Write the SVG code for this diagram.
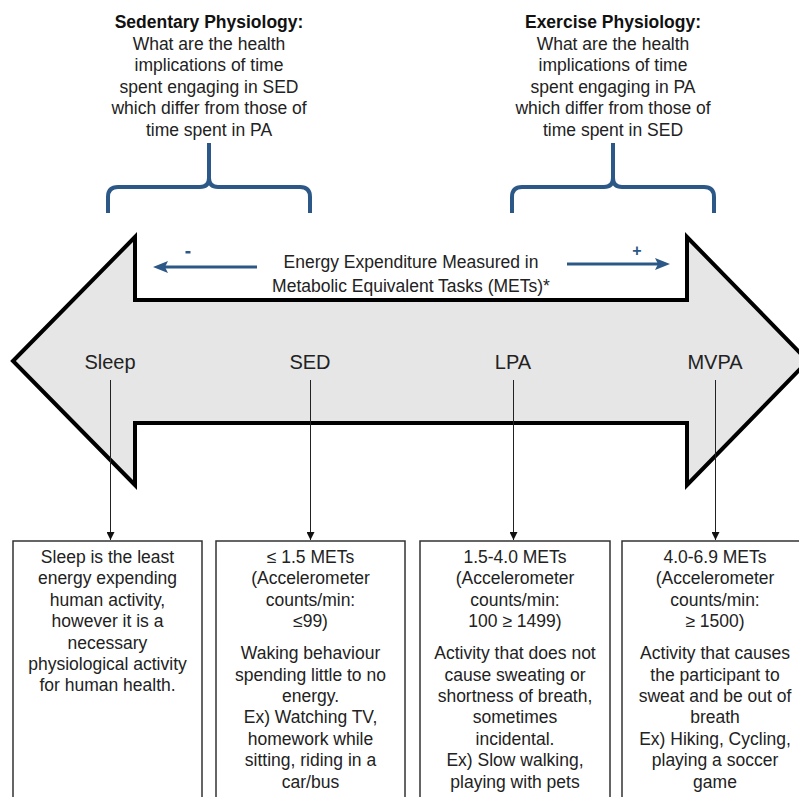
<svg xmlns="http://www.w3.org/2000/svg" width="799" height="797" viewBox="0 0 799 797">
  <style>
    text { font-family: "Liberation Sans", Arial, sans-serif; fill: #222; }
    .title { font-size: 17.5px; text-anchor: middle; }
    .bold { font-weight: bold; fill: #111; }
    .cat { font-size: 20px; text-anchor: middle; }
    .box { fill: #fff; stroke: #333; stroke-width: 1.5; }
    .boxtext { font-size: 17.5px; text-anchor: middle; }
    .brace { fill: none; stroke: #2b5886; stroke-width: 4; stroke-linecap: butt; stroke-linejoin: round; }
    .sign { fill: #2b5886; font-weight: bold; font-size: 16px; text-anchor: middle; }
    .conn { stroke: #222; stroke-width: 1; fill: none; }
  </style>
  <defs>
    <marker id="tip" markerWidth="8" markerHeight="8" refX="8" refY="4" orient="auto" markerUnits="userSpaceOnUse">
      <path d="M0,0 L8,4 L0,8 Z" fill="#111"/>
    </marker>
  </defs>

  <rect width="799" height="797" fill="#fff"/>

  <!-- Sedentary physiology heading and brace -->
  <g id="sedentary-physiology">
    <text class="title" x="209" y="28"><tspan class="bold">Sedentary Physiology:</tspan></text>
    <text class="title" x="209" y="49.6">What are the health</text>
    <text class="title" x="209" y="71.2">implications of time</text>
    <text class="title" x="209" y="92.8">spent engaging in SED</text>
    <text class="title" x="209" y="114.4">which differ from those of</text>
    <text class="title" x="209" y="136">time spent in PA</text>
    <path class="brace" d="M108,213 V197 Q108,187 118,187 H200 Q209,187 209,178 V143 M310,213 V197 Q310,187 300,187 H218 Q209,187 209,178"/>
  </g>

  <!-- Exercise physiology heading and brace -->
  <g id="exercise-physiology">
    <text class="title" x="613" y="28"><tspan class="bold">Exercise Physiology:</tspan></text>
    <text class="title" x="613" y="49.6">What are the health</text>
    <text class="title" x="613" y="71.2">implications of time</text>
    <text class="title" x="613" y="92.8">spent engaging in PA</text>
    <text class="title" x="613" y="114.4">which differ from those of</text>
    <text class="title" x="613" y="136">time spent in SED</text>
    <path class="brace" d="M512,213 V197 Q512,187 522,187 H604 Q613,187 613,178 V143 M714,213 V197 Q714,187 704,187 H622 Q613,187 613,178"/>
  </g>

  <!-- Double-headed energy expenditure arrow -->
  <g id="energy-arrow">
    <path d="M13,361 L135,237 V300 H687 V237 L808,361 L687,485 V423 H135 V485 Z" fill="#e6e6e6" stroke="#000" stroke-width="4" stroke-linejoin="miter"/>
  </g>

  <!-- Scale caption with direction arrows -->
  <g id="energy-label">
    <rect x="257" y="244" width="310" height="54" fill="#fff"/>
    <text class="title" x="411" y="268">Energy Expenditure Measured in</text>
    <text class="title" x="411" y="292">Metabolic Equivalent Tasks (METs)*</text>
    <line x1="257" y1="267" x2="164" y2="267" stroke="#2b5886" stroke-width="3"/>
    <path d="M153,267 L168,261 L165,267 L168,273 Z" fill="#2b5886"/>
    <rect x="185.5" y="251" width="5" height="2.5" fill="#2b5886"/>
    <line x1="567" y1="264" x2="659" y2="264" stroke="#2b5886" stroke-width="3"/>
    <path d="M670,264 L655,258 L658,264 L655,270 Z" fill="#2b5886"/>
    <text class="sign" x="637" y="256">+</text>
  </g>

  <!-- Category labels -->
  <g id="label-sleep"><text class="cat" x="110" y="369">Sleep</text></g>
  <g id="label-sed"><text class="cat" x="310" y="369">SED</text></g>
  <g id="label-lpa"><text class="cat" x="513" y="369">LPA</text></g>
  <g id="label-mvpa"><text class="cat" x="715" y="369">MVPA</text></g>

  <!-- Connectors from labels to description boxes -->
  <g id="connectors">
    <line class="conn" x1="110.5" y1="380" x2="110.5" y2="540" marker-end="url(#tip)"/>
    <line class="conn" x1="310.5" y1="380" x2="310.5" y2="540" marker-end="url(#tip)"/>
    <line class="conn" x1="513.5" y1="380" x2="513.5" y2="540" marker-end="url(#tip)"/>
    <line class="conn" x1="715.5" y1="380" x2="715.5" y2="540" marker-end="url(#tip)"/>
  </g>

  <!-- Description boxes -->
  <g id="box-sleep">
    <rect class="box" x="13" y="541" width="189" height="270"/>
    <text class="boxtext" x="107.5" y="563">Sleep is the least</text>
    <text class="boxtext" x="107.5" y="584.4">energy expending</text>
    <text class="boxtext" x="107.5" y="605.8">human activity,</text>
    <text class="boxtext" x="107.5" y="627.2">however it is a</text>
    <text class="boxtext" x="107.5" y="648.6">necessary</text>
    <text class="boxtext" x="107.5" y="670">physiological activity</text>
    <text class="boxtext" x="107.5" y="691.4">for human health.</text>
  </g>

  <g id="box-sed">
    <rect class="box" x="216" y="541" width="189" height="270"/>
    <text class="boxtext" x="310.5" y="563">≤ 1.5 METs</text>
    <text class="boxtext" x="310.5" y="584.4">(Accelerometer</text>
    <text class="boxtext" x="310.5" y="605.8">counts/min:</text>
    <text class="boxtext" x="310.5" y="627.2">≤99)</text>
    <text class="boxtext" x="310.5" y="659.2">Waking behaviour</text>
    <text class="boxtext" x="310.5" y="680.6">spending little to no</text>
    <text class="boxtext" x="310.5" y="702">energy.</text>
    <text class="boxtext" x="310.5" y="723.4">Ex) Watching TV,</text>
    <text class="boxtext" x="310.5" y="744.8">homework while</text>
    <text class="boxtext" x="310.5" y="766.2">sitting, riding in a</text>
    <text class="boxtext" x="310.5" y="787.6">car/bus</text>
  </g>

  <g id="box-lpa">
    <rect class="box" x="420" y="541" width="190" height="270"/>
    <text class="boxtext" x="515" y="563">1.5-4.0 METs</text>
    <text class="boxtext" x="515" y="584.4">(Accelerometer</text>
    <text class="boxtext" x="515" y="605.8">counts/min:</text>
    <text class="boxtext" x="515" y="627.2">100 ≥ 1499)</text>
    <text class="boxtext" x="515" y="659.2">Activity that does not</text>
    <text class="boxtext" x="515" y="680.6">cause sweating or</text>
    <text class="boxtext" x="515" y="702">shortness of breath,</text>
    <text class="boxtext" x="515" y="723.4">sometimes</text>
    <text class="boxtext" x="515" y="744.8">incidental.</text>
    <text class="boxtext" x="515" y="766.2">Ex) Slow walking,</text>
    <text class="boxtext" x="515" y="787.6">playing with pets</text>
  </g>

  <g id="box-mvpa">
    <rect class="box" x="622" y="541" width="190" height="270"/>
    <text class="boxtext" x="715" y="563">4.0-6.9 METs</text>
    <text class="boxtext" x="715" y="584.4">(Accelerometer</text>
    <text class="boxtext" x="715" y="605.8">counts/min:</text>
    <text class="boxtext" x="715" y="627.2">≥ 1500)</text>
    <text class="boxtext" x="715" y="659.2">Activity that causes</text>
    <text class="boxtext" x="715" y="680.6">the participant to</text>
    <text class="boxtext" x="715" y="702">sweat and be out of</text>
    <text class="boxtext" x="715" y="723.4">breath</text>
    <text class="boxtext" x="715" y="744.8">Ex) Hiking, Cycling,</text>
    <text class="boxtext" x="715" y="766.2">playing a soccer</text>
    <text class="boxtext" x="715" y="787.6">game</text>
  </g>
</svg>
